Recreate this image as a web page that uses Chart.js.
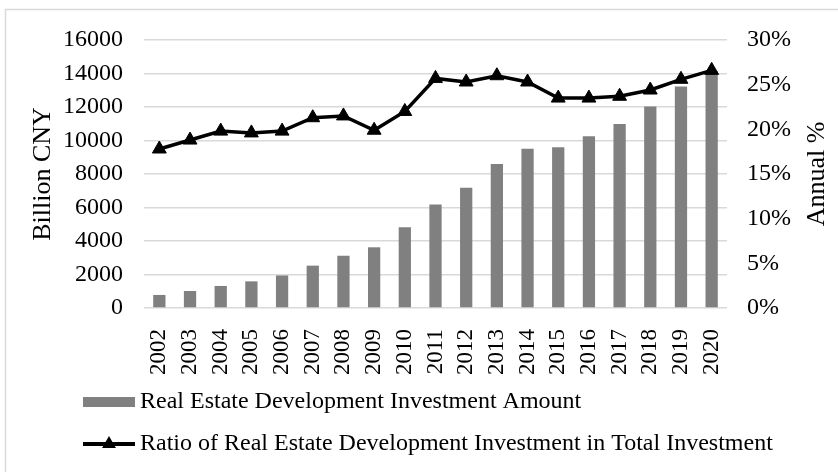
<!DOCTYPE html>
<html>
<head>
<meta charset="utf-8">
<script src="https://cdn.jsdelivr.net/npm/chart.js@4"></script>
<style>
  html, body { margin: 0; padding: 0; background: #fff; }
  #wrap { width: 838px; height: 472px; }
</style>
</head>
<body>
<div id="wrap"><canvas id="chart" width="838" height="472"></canvas></div>
<script>
const years = ["2002", "2003", "2004", "2005", "2006", "2007", "2008", "2009", "2010", "2011",
  "2012", "2013", "2014", "2015", "2016", "2017", "2018", "2019", "2020"];
// billion CNY
const investAmount = [779, 1015, 1316, 1591, 1942, 2529, 3120, 3624, 4826, 6180,
  7180, 8601, 9504, 9598, 10258, 10980, 12026, 13219, 14144];
// share of total investment, %
const investRatio = [17.8, 18.8, 19.8, 19.6, 19.8, 21.3, 21.5, 19.9, 22.0, 25.7,
  25.3, 26.0, 25.3, 23.5, 23.5, 23.7, 24.4, 25.6, 26.6];
const leftTicks = [0, 2000, 4000, 6000, 8000, 10000, 12000, 14000, 16000];
const rightTicks = [0, 5, 10, 15, 20, 25, 30];

const FONT = '"Liberation Serif", "Times New Roman", serif';
const GRID = "#d9d9d9";

// outer frame (only top and left edge show in the picture)
const framePlugin = {
  id: "frame",
  beforeDraw(chart) {
    const c = chart.ctx;
    c.save();
    c.strokeStyle = GRID;
    c.lineWidth = 1.5;
    c.beginPath();
    c.moveTo(5.5, chart.height);
    c.lineTo(5.5, 9.5);
    c.lineTo(chart.width, 9.5);
    c.stroke();
    c.restore();
  }
};

// right title reads bottom-to-top, plus the stacked legend under the axis
const extrasPlugin = {
  id: "extras",
  afterDraw(chart) {
    const c = chart.ctx;
    const area = chart.chartArea;
    c.save();
    c.fillStyle = "#000";
    c.font = "26px " + FONT;
    c.textAlign = "center";
    c.textBaseline = "middle";
    c.translate(817, (area.top + area.bottom) / 2);
    c.rotate(-Math.PI / 2);
    c.fillText("Annual %", 0, 0);
    c.restore();

    const bars = chart.data.datasets.find(d => d.type === "bar");
    const line = chart.data.datasets.find(d => d.type === "line");
    const x0 = 83, x1 = 135;
    c.save();
    c.font = "24px " + FONT;
    c.textBaseline = "middle";
    c.textAlign = "left";

    // bar item
    let y = 402;
    c.fillStyle = bars.backgroundColor;
    c.fillRect(x0, y - 5, x1 - x0, 10);
    c.fillStyle = "#000";
    c.fillText(bars.label, 140, y);

    // line item
    y = 444;
    c.strokeStyle = line.borderColor;
    c.lineWidth = 4;
    c.beginPath();
    c.moveTo(x0, y);
    c.lineTo(x1, y);
    c.stroke();
    const r = 8, cx = (x0 + x1) / 2;
    c.fillStyle = "#000";
    c.beginPath();
    c.moveTo(cx, y - r);
    c.lineTo(cx + r * 0.866, y + r / 2);
    c.lineTo(cx - r * 0.866, y + r / 2);
    c.closePath();
    c.fill();
    c.fillText(line.label, 140, y);
    c.restore();
  }
};

new Chart(document.getElementById("chart"), {
  data: {
    labels: years,
    datasets: [
      {
        type: "line",
        label: "Ratio of Real Estate Development Investment in Total Investment",
        data: investRatio,
        yAxisID: "y1",
        borderColor: "#000",
        backgroundColor: "#000",
        borderWidth: 3.5,
        pointStyle: "triangle",
        pointRadius: 8,
        pointBorderWidth: 1,
        tension: 0,
        order: 0
      },
      {
        type: "bar",
        label: "Real Estate Development Investment Amount",
        data: investAmount,
        yAxisID: "y",
        backgroundColor: "#808080",
        categoryPercentage: 1,
        barPercentage: 0.4,
        order: 1
      }
    ]
  },
  options: {
    responsive: false,
    animation: false,
    events: [],
    layout: { padding: { left: 5, right: 0, top: 40, bottom: 94 } },
    plugins: { legend: { display: false }, tooltip: { enabled: false } },
    scales: {
      x: {
        grid: { display: false },
        border: { display: false },
        ticks: {
          color: "#000",
          font: { family: FONT, size: 23 },
          minRotation: 90,
          maxRotation: 90,
          autoSkip: false,
          padding: 13
        },
        afterFit(s) { s.height = 70; }
      },
      y: {
        position: "left",
        min: 0,
        max: 16000,
        afterBuildTicks(s) { s.ticks = leftTicks.map(v => ({ value: v })); },
        grid: { color: GRID, lineWidth: 1.5, drawTicks: false },
        border: { display: false },
        ticks: {
          color: "#000",
          font: { family: FONT, size: 24 },
          padding: 21,
          callback: v => String(v)
        },
        title: {
          display: true,
          text: "Billion CNY",
          color: "#000",
          font: { family: FONT, size: 26 },
          padding: { top: 23, bottom: 0 }
        },
        afterFit(s) { s.width = 139; }
      },
      y1: {
        position: "right",
        min: 0,
        max: 30,
        afterBuildTicks(s) { s.ticks = rightTicks.map(v => ({ value: v })); },
        grid: { display: false, drawTicks: false },
        border: { display: false },
        ticks: {
          color: "#000",
          font: { family: FONT, size: 24 },
          padding: 20,
          callback: v => v + "%"
        },
        afterFit(s) { s.width = 111; }
      }
    }
  },
  plugins: [framePlugin, extrasPlugin]
});
</script>
</body>
</html>
